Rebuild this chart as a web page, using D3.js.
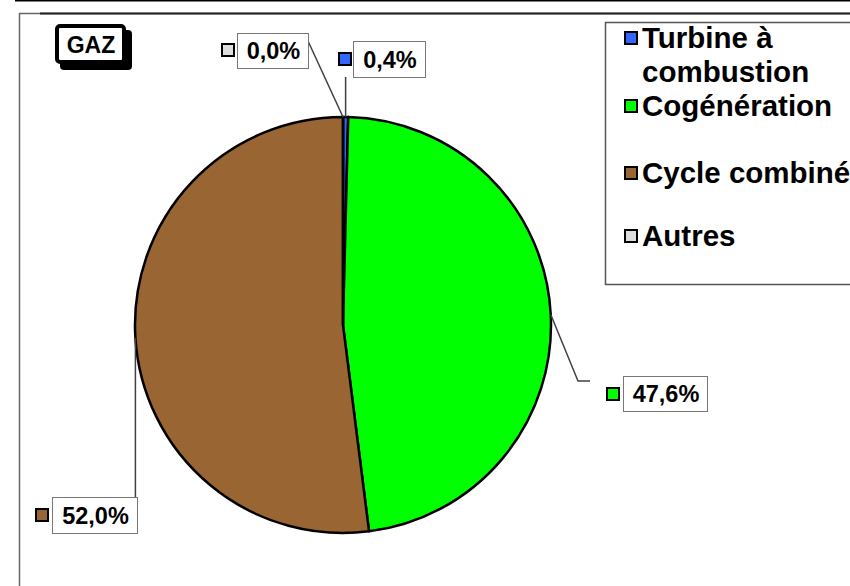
<!DOCTYPE html>
<html><head><meta charset="utf-8">
<script src="https://cdn.jsdelivr.net/npm/d3@7"></script>
<style>html,body{margin:0;padding:0;background:#fff;}svg{display:block;font-family:"Liberation Sans",Arial,sans-serif;font-weight:bold;}</style>
</head><body>
<svg id="c" width="850" height="586"></svg>
<script>
const categories = ["Turbine à combustion", "Cogénération", "Cycle combiné", "Autres"];
const legendLines = [["Turbine à", "combustion"], ["Cogénération"], ["Cycle combiné"], ["Autres"]];
const values = [0.4, 47.6, 52.0, 0.0];
const valueLabels = ["0,4%", "47,6%", "52,0%", "0,0%"];
const colors = ["#3366FF", "#00FF00", "#996633", "#DDDDDD"];
const title = "GAZ";

const svg = d3.select("#c");
// top line and frame
svg.append("line").attr("x1",15).attr("x2",850).attr("y1",0.5).attr("y2",0.5).attr("stroke","#000").attr("stroke-width",2);
svg.append("rect").attr("x",19.5).attr("y",13.5).attr("width",900).attr("height",700).attr("fill","none").attr("stroke","#666").attr("stroke-width",1.5);
svg.append("line").attr("x1",40).attr("x2",850).attr("y1",13.5).attr("y2",13.5).attr("stroke","#222").attr("stroke-width",1.8);

// Title box
svg.append("rect").attr("x",60).attr("y",30).attr("width",72).attr("height",40).attr("rx",4).attr("fill","#000");
svg.append("rect").attr("x",57).attr("y",26).attr("width",67).attr("height",36).attr("rx",3).attr("fill","#fff").attr("stroke","#000").attr("stroke-width",4);
svg.append("text").attr("x",91).attr("y",53).attr("text-anchor","middle").attr("font-size",23).text(title);

// Pie
const cx = 343, cy = 325, R = 208;
const pie = d3.pie().sort(null).value(d => d)(values);
const arc = d3.arc().innerRadius(0).outerRadius(R);
const g = svg.append("g").attr("transform",`translate(${cx},${cy})`);
g.selectAll("path").data(pie).join("path")
  .attr("d", arc).attr("fill",(d,i)=>colors[i]).attr("stroke","#000").attr("stroke-width",2.5).attr("stroke-linejoin","round");

function edgePoint(d){
  const a = (d.startAngle + d.endAngle)/2;
  return [cx + R*Math.sin(a), cy - R*Math.cos(a)];
}

// label layout: box position/size, marker pos, leader path
const labelLayout = [
  {box:[353,41,72,36], mk:[338,52], leader:p=>[[p[0],p[1]],[p[0],77]]},
  {box:[623,376,84,35], mk:[606,387], leader:p=>[[p[0],p[1]],[578,381],[590,381]]},
  {box:[52,497,85,36], mk:[35,508], leader:p=>[[p[0],p[1]],[p[0],497]]},
  {box:[237,33,71,35], mk:[221,43], leader:p=>[[p[0],p[1]],[308,41]]}
];
pie.forEach((d,i)=>{
  const L = labelLayout[i];
  const p = edgePoint(d);
  svg.append("path").attr("d", d3.line()(L.leader(p))).attr("fill","none").attr("stroke","#404040").attr("stroke-width",1.5);
});
pie.forEach((d,i)=>{
  const L = labelLayout[i];
  svg.append("rect").attr("x",L.box[0]+0.5).attr("y",L.box[1]+0.5).attr("width",L.box[2]).attr("height",L.box[3]).attr("fill","#fff").attr("stroke","#777").attr("stroke-width",1);
  svg.append("rect").attr("x",L.mk[0]+1).attr("y",L.mk[1]+1).attr("width",12).attr("height",12).attr("fill",colors[i]).attr("stroke","#000").attr("stroke-width",2);
  svg.append("text").attr("x",L.box[0]+L.box[2]/2+1).attr("y",L.box[1]+L.box[3]/2+8.5).attr("text-anchor","middle").attr("font-size",23.5).text(valueLabels[i]);
});

// Legend
svg.append("rect").attr("x",605.5).attr("y",22.5).attr("width",300).attr("height",262).attr("fill","#fff").attr("stroke","#555").attr("stroke-width",1.5);
const legY = [31, 99, 166, 229];
categories.forEach((c,i)=>{
  svg.append("rect").attr("x",625).attr("y",legY[i]+1).attr("width",12).attr("height",12).attr("fill",colors[i]).attr("stroke","#000").attr("stroke-width",2);
  const t = svg.append("text").attr("x",642).attr("y",legY[i]+17).attr("font-size",29.5);
  legendLines[i].forEach((ln,j)=>{
    t.append("tspan").attr("x",642).attr("dy", j===0?0:33.5).text(ln);
  });
});
</script>
</body></html>
